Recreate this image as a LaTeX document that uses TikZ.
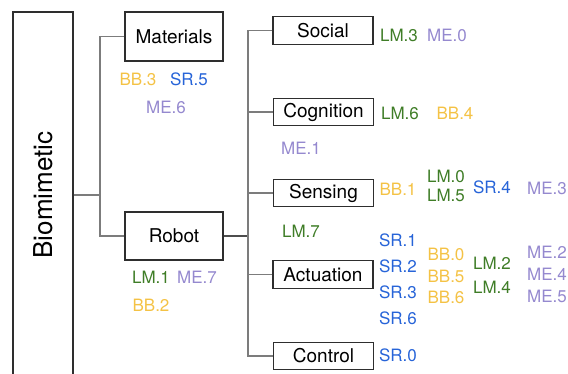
\documentclass[tikz,border=0pt]{standalone}
\usepackage{fontspec}
\setmainfont{TeX Gyre Heros}
\definecolor{cLM}{HTML}{3F7D27}
\definecolor{cBB}{HTML}{F4C245}
\definecolor{cSR}{HTML}{2764D8}
\definecolor{cME}{HTML}{9589CF}
\definecolor{cLine}{HTML}{7C7C7C}
\definecolor{cBox}{HTML}{2E2E2E}
\tikzset{
  box/.style={draw=cBox, line width=1.1pt, fill=white, inner sep=0pt, font=\fontsize{19}{22}\selectfont},
  sbox/.style={box, minimum width=100pt, minimum height=27.5pt},
  conn/.style={draw=cLine, line width=1.2pt},
  lab/.style={inner sep=0pt, font=\fontsize{17}{20}\selectfont},
  LM/.style={lab, text=cLM},
  BB/.style={lab, text=cBB},
  SR/.style={lab, text=cSR},
  ME/.style={lab, text=cME},
}
\begin{document}
\begin{tikzpicture}[x=1pt, y=-1pt]
\useasboundingbox (0,0) rectangle (568,374);
\begin{scope}
\clip (0,0) rectangle (568,374);
% main boxes
\node[box, minimum width=60pt, minimum height=366pt] (bio) at (43,195) {\fontsize{26}{30}\selectfont\rotatebox{90}{Biomimetic}};
\node[box, minimum width=98pt, minimum height=49pt] (mat) at (174,36.5) {Materials};
\node[box, minimum width=98pt, minimum height=48pt] (rob) at (174,236) {Robot};
\node[sbox] (soc) at (323,30.5) {Social};
\node[sbox] (cog) at (323.5,112) {Cognition};
\node[sbox] (sen) at (323.5,193) {Sensing};
\node[sbox] (act) at (323,274.5) {Actuation};
\node[sbox] (ctl) at (323.5,356) {Control};
% connectors
\coordinate (j1) at (100,195);
\coordinate (j2) at (248,236);
\draw[conn] (bio.east) -- (j1);
\draw[conn] (mat.west) -| (j1) |- (rob.west);
\draw[conn, draw=cBox!85] (rob.east) -- (j2);
\draw[conn] (soc.west) -| (j2) |- (ctl.west);
\draw[conn] (cog.west) -- (cog.west -| j2);
\draw[conn] (sen.west) -- (sen.west -| j2);
\draw[conn] (act.west) -- (act.west -| j2);
\end{scope}
% labels: Materials
\node[BB] (m1) at (138,79) {BB.3};
\node[SR] (m2) at (189,79) {SR.5};
\node[ME] (m3) at (166,107) {ME.6};
% Robot
\node[LM] (r1) at (151,277) {LM.1};
\node[ME] (r2) at (197,277) {ME.7};
\node[BB] (r3) at (151,305) {BB.2};
% Social
\node[LM] (s1) at (399,35) {LM.3};
\node[ME] (s2) at (447,35) {ME.0};
% Cognition
\node[LM] (c1) at (400,113) {LM.6};
\node[BB] (c2) at (455,113) {BB.4};
\node[ME] (c3) at (301,148) {ME.1};
% Sensing
\node[BB] (e1) at (398,189) {BB.1};
\node[LM] (e2) at (446,176) {LM.0};
\node[LM] (e3) at (446,195) {LM.5};
\node[SR] (e4) at (492,187) {SR.4};
\node[ME] (e5) at (547,188) {ME.3};
\node[LM] (e6) at (301,231) {LM.7};
% Actuation
\node[SR] (a1) at (398,240) {SR.1};
\node[SR] (a2) at (398,266) {SR.2};
\node[SR] (a3) at (398,292) {SR.3};
\node[SR] (a4) at (398,318) {SR.6};
\node[BB] (a5) at (446,254) {BB.0};
\node[BB] (a6) at (446,276) {BB.5};
\node[BB] (a7) at (446,297) {BB.6};
\node[LM] (a8) at (492,263) {LM.2};
\node[LM] (a9) at (492,287) {LM.4};
\node[ME] (a10) at (547,252) {ME.2};
\node[ME] (a11) at (547,274) {ME.4};
\node[ME] (a12) at (547,296) {ME.5};
% Control
\node[SR] (t1) at (398,355) {SR.0};
\end{tikzpicture}
\end{document}
